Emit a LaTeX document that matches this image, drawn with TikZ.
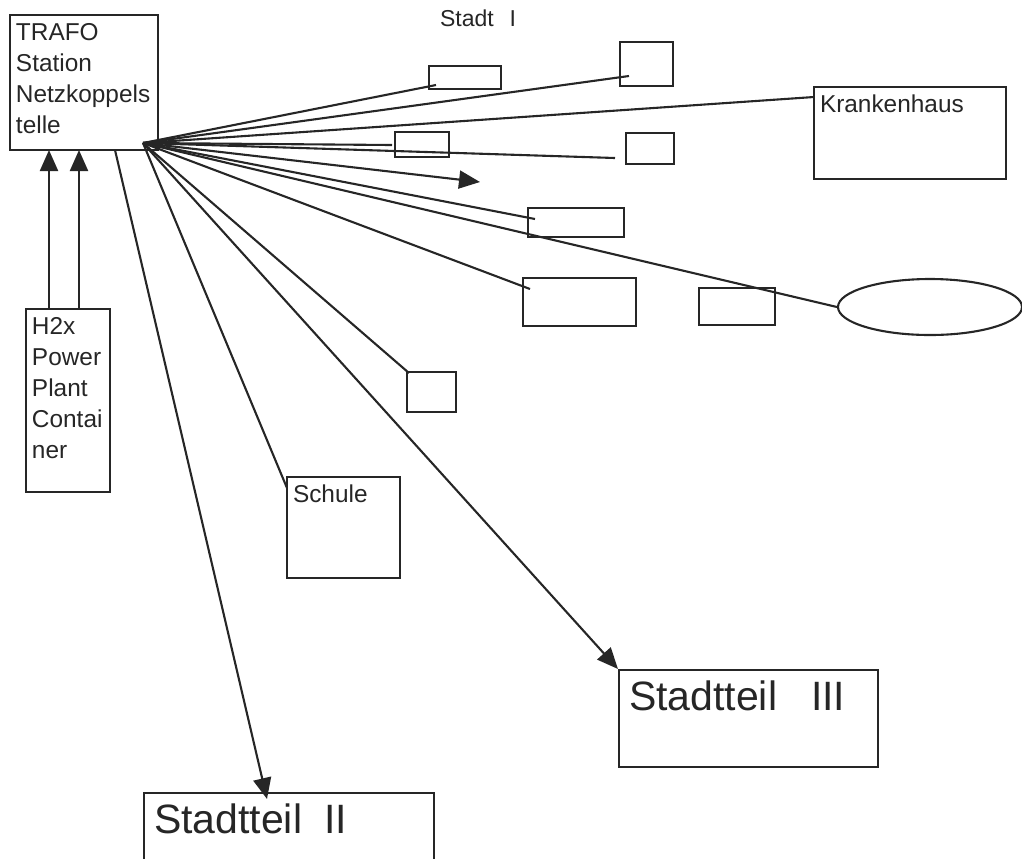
\documentclass[tikz,border=0pt]{standalone}
\usepackage{fontspec}
\setmainfont{Liberation Sans}
\usetikzlibrary{arrows.meta}
\usetikzlibrary{shapes.geometric}

\begin{document}
\begin{tikzpicture}[
    x=0.5pt, y=-0.5pt,
    color=black!85, line width=1.05pt,
    box/.style={rectangle, draw, inner sep=0pt},
    caption/.style={anchor=north west, inner xsep=3pt, inner ysep=4pt, align=left, font=\fontsize{12.2}{15.5}\selectfont},
    bigcaption/.style={anchor=north west, inner xsep=5pt, inner ysep=5.5pt, font=\fontsize{20.5}{24}\selectfont},
    feed/.style={-{Triangle[length=10.5pt, width=9pt]}}
]
    \useasboundingbox (0,0) rectangle (1022,858);
    \clip (0,0) rectangle (1022,858);

    % Station and power plant
    \node[box, minimum width=74pt, minimum height=67.5pt] (trafo) at (84,82.5) {};
    \node[caption] (trafotext) at (trafo.north west) {TRAFO\\Station\\Netzkoppels\\telle};

    \node[box, minimum width=42pt, minimum height=91.5pt] (h2x) at (68,400.5) {};
    \node[caption] (h2xtext) at (h2x.north west) {H2x\\Power\\Plant\\Contai\\ner};

    \coordinate (in1) at (49,150);
    \coordinate (in2) at (79,150);
    \draw[feed] (h2x.north -| in1) -- (in1);
    \draw[feed] (h2x.north -| in2) -- (in2);

    % Stadt I
    \node[anchor=base west, inner sep=0pt, font=\fontsize{11.5}{15.5}\selectfont] (stadt1) at (439,26) {Stadt\hspace{8pt}I};

    \node[box, minimum width=36pt, minimum height=11.5pt] (boxa) at (465,77.5) {};
    \node[box, minimum width=26.5pt, minimum height=22pt] (boxb) at (646.5,64) {};
    \node[box, minimum width=96pt, minimum height=46pt] (krank) at (910,133) {};
    \node[caption] (kranktext) at (krank.north west) {Krankenhaus};
    \node[box, minimum width=27pt, minimum height=12.5pt] (boxc) at (422,144.5) {};
    \node[box, minimum width=24pt, minimum height=15.5pt] (boxd) at (650,148.5) {};
    \node[box, minimum width=48pt, minimum height=14.5pt] (boxf) at (576,222.5) {};
    \node[box, minimum width=56.5pt, minimum height=24pt] (boxi) at (579.5,302) {};
    \node[box, minimum width=38pt, minimum height=18.5pt] (boxh) at (737,306.5) {};
    \node[draw, ellipse, inner sep=0pt, minimum width=92pt, minimum height=28pt] (plant) at (930,307) {};
    \node[box, minimum width=24.5pt, minimum height=20pt] (boxj) at (431.5,392) {};

    \node[box, minimum width=56.5pt, minimum height=50.5pt] (schule) at (343.5,527.5) {};
    \node[caption] (schuletext) at (schule.north west) {Schule};

    % Stadtteile
    \node[box, minimum width=129.5pt, minimum height=48.5pt] (st3) at (748.5,718.5) {};
    \node[bigcaption] (st3text) at (st3.north west) {Stadtteil\hspace{17pt}III};
    \node[box, minimum width=145pt, minimum height=38.5pt] (st2) at (289,831.5) {};
    \node[bigcaption] (st2text) at (st2.north west) {Stadtteil\hspace{11pt}II};

    % Lines from the station
    \coordinate (hub) at (143,143);
    \coordinate (enda) at (436,85);
    \coordinate (endb) at (629,76);
    \coordinate (endk) at (814,97);
    \coordinate (endc) at (392,145);
    \coordinate (endd) at (615,158);
    \coordinate (flow) at (480,182);
    \coordinate (endf) at (535,219);
    \coordinate (endi) at (530,289);
    \coordinate (endj) at (409,373);
    \coordinate (ends) at (287,488);
    \coordinate (s2top) at (115,150);
    \coordinate (s2tip) at (267,799);

    \draw (hub) -- (enda);
    \draw (hub) -- (endb);
    \draw (hub) -- (endk);
    \draw (hub) -- (endc);
    \draw (hub) -- (endd);
    \draw[feed] (hub) -- (flow);
    \draw (hub) -- (endf);
    \draw (hub) -- (plant.west);
    \draw (hub) -- (endi);
    \draw (hub) -- (endj);
    \draw (hub) -- (ends);
    \draw[feed] (hub) -- (st3.north west);
    \draw[feed] (s2top) -- (s2tip);
\end{tikzpicture}
\end{document}
